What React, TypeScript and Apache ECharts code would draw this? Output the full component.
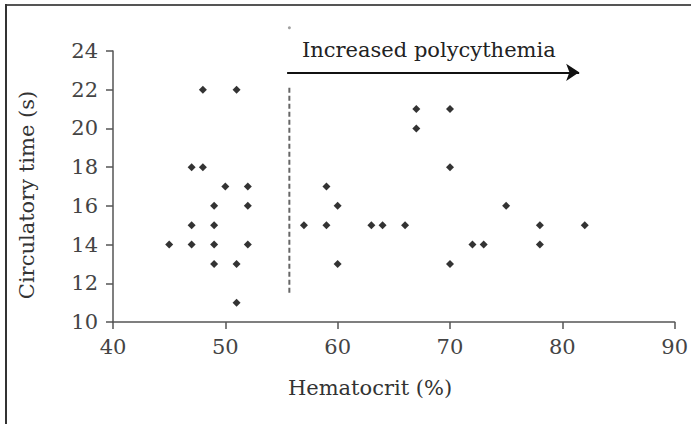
import React, { useEffect, useRef } from "react";
import * as echarts from "echarts";

const hematocrit = [
  45, 47, 47, 47, 48, 48, 49, 49, 49, 49, 50, 51, 51, 51, 52, 52, 52,
  57, 59, 59, 60, 60, 63, 64, 66, 67, 67, 70, 70, 70, 72, 73, 75, 78, 78, 82,
];
const circTime = [
  14, 15, 14, 18, 18, 22, 16, 15, 14, 13, 17, 22, 13, 11, 17, 16, 14,
  15, 15, 17, 16, 13, 15, 15, 15, 21, 20, 21, 18, 13, 14, 14, 16, 15, 14, 15,
];
const xTicks = [40, 50, 60, 70, 80, 90];
const yTicks = [10, 12, 14, 16, 18, 20, 22, 24];
const thresholdX = 55.7;
const thresholdY = [22.1, 11.4];
const thresholdDotY = 25.2;
const arrowX = [55.5, 81.5];
const arrowY = 22.9;
const annotation = "Increased polycythemia";
const xName = "Hematocrit (%)";
const yName = "Circulatory time (s)";

const FONT = "DejaVu Serif";

export default function App() {
  const ref = useRef<HTMLDivElement>(null);
  useEffect(() => {
    if (!ref.current) return;
    const chart = echarts.init(ref.current, null, { renderer: "svg" });
    const points = hematocrit.map((x, i) => [x, circTime[i]]);
    chart.setOption({
      animation: false,
      backgroundColor: "#ffffff",
      grid: { left: 113, right: 15, top: 51, bottom: 102 },
      xAxis: {
        type: "value",
        min: xTicks[0],
        max: xTicks[xTicks.length - 1],
        interval: 10,
        axisLine: { show: true, lineStyle: { color: "#555", width: 1.5 } },
        axisTick: { show: true, inside: false, length: 7, lineStyle: { color: "#555", width: 1.5 } },
        axisLabel: { color: "#444", fontFamily: FONT, fontSize: 21, margin: 14 },
        splitLine: { show: false },
      },
      yAxis: {
        type: "value",
        min: yTicks[0],
        max: yTicks[yTicks.length - 1],
        interval: 2,
        axisLine: { show: true, lineStyle: { color: "#555", width: 1.5 } },
        axisTick: { show: true, inside: false, length: 7, lineStyle: { color: "#555", width: 1.5 } },
        axisLabel: { color: "#444", fontFamily: FONT, fontSize: 21, margin: 15 },
        splitLine: { show: false },
      },
      graphic: [
        { type: "rect", z: 100, shape: { x: 5, y: 4, width: 686, height: 2 }, style: { fill: "#555" } },
        { type: "rect", z: 100, shape: { x: 5, y: 4, width: 2, height: 420 }, style: { fill: "#333" } },
        {
          type: "text",
          x: 302,
          y: 50,
          style: { text: annotation, fontFamily: FONT, fontSize: 21, fill: "#222", textVerticalAlign: "middle", textAlign: "left" },
        },
        {
          type: "text",
          x: 370,
          y: 388,
          style: { text: xName, fontFamily: FONT, fontSize: 21, fill: "#333", textVerticalAlign: "middle", textAlign: "center" },
        },
        {
          type: "text",
          x: 27,
          y: 195,
          rotation: Math.PI / 2,
          style: { text: yName, fontFamily: FONT, fontSize: 21, fill: "#333", textVerticalAlign: "middle", textAlign: "center" },
        },
      ],
      series: [
        {
          type: "scatter",
          data: points,
          symbol: "diamond",
          symbolSize: [8, 8],
          itemStyle: { color: "#000" },
          silent: true,
        },
        {
          type: "line",
          data: [
            [thresholdX, thresholdY[0]],
            [thresholdX, thresholdY[1]],
          ],
          symbol: "none",
          lineStyle: { color: "#666", width: 2, type: [5, 3] },
          silent: true,
          markLine: {
            silent: true,
            symbol: ["none", "arrow"],
            symbolSize: 13,
            label: { show: false },
            lineStyle: { color: "#111", width: 2, type: "solid" },
            data: [[{ coord: [arrowX[0], arrowY] }, { coord: [arrowX[1], arrowY] }]],
          },
        },
        {
          type: "scatter",
          data: [[thresholdX, thresholdDotY]],
          symbol: "circle",
          symbolSize: 3,
          clip: false,
          itemStyle: { color: "#888" },
          silent: true,
        },
      ],
    });
    return () => chart.dispose();
  }, []);
  return (
    <div style={{ position: "fixed", left: 0, top: 0, width: 691, height: 424, background: "#fff" }}>
      <div ref={ref} style={{ width: 691, height: 424 }} />
    </div>
  );
}
